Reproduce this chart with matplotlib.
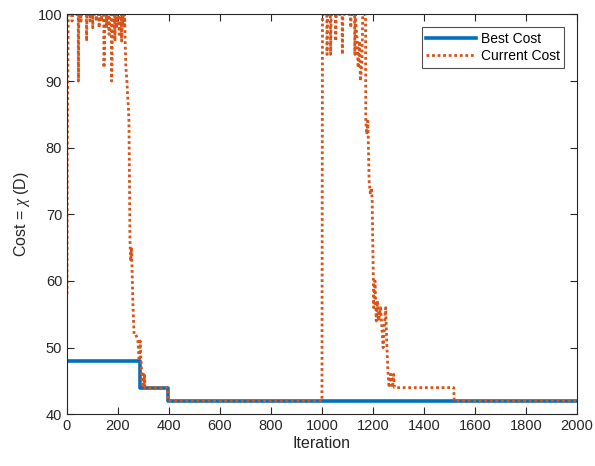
import matplotlib
matplotlib.use('Agg')
import matplotlib.pyplot as plt

plt.rcParams['font.family'] = ['Liberation Sans', 'DejaVu Sans']
plt.rcParams['mathtext.fontset'] = 'custom'
plt.rcParams['mathtext.it'] = 'Liberation Serif:italic'

# best cost so far (changes only at improvements)
best_iter = [0, 287, 395, 2000]
best_cost = [48, 44, 42, 42]

# current cost of the annealing walk, sampled at its turning points
cur_iter = [0, 1, 5, 19, 20, 21, 44, 45, 46, 54, 55, 56, 76, 77, 78, 89, 90, 91,
            100, 101, 102, 114, 115, 116, 125, 126, 127, 134, 135, 136, 144, 145, 147,
            148, 154, 155, 156, 164, 165, 166, 174, 175, 177, 178, 187, 188, 189, 194,
            195, 196, 204, 205, 206, 213, 214, 216, 219, 220, 221, 224, 225, 226, 228,
            231, 235, 239, 241, 243, 247, 250, 253, 255, 259, 263, 270, 278, 283, 287,
            295, 300, 302, 304, 306, 395, 396, 1000, 1002,
            1019, 1020, 1022, 1033, 1034, 1036, 1053, 1054, 1056, 1079, 1080, 1082,
            1112, 1113, 1115, 1128, 1129, 1131, 1138, 1142, 1147, 1151, 1157, 1160,
            1162, 1171, 1172, 1176, 1180, 1185, 1190, 1194, 1197, 1203, 1208, 1213,
            1218, 1222, 1226, 1230, 1240, 1246, 1250, 1254, 1258, 1263, 1270, 1277,
            1281, 1284, 1517, 1519, 2000]
cur_cost = [58, 80, 100, 100, 99, 100, 100, 90, 100, 100, 99, 100, 100, 96, 100, 100, 99, 100,
            100, 98, 100, 100, 99, 100, 100, 98, 100, 100, 99, 100, 100, 92, 95,
            100, 100, 98, 100, 100, 97, 100, 100, 90, 93, 100, 100, 96, 100, 100,
            98, 100, 100, 97, 100, 100, 96, 98, 100, 99, 100, 100, 98, 100, 96,
            92, 90, 87, 86, 84, 66, 63, 65, 62, 56, 52, 52, 51, 48, 51,
            44, 46, 44, 46, 44, 44, 42, 42, 100,
            100, 94, 100, 100, 94, 100, 100, 96, 100, 100, 94, 100,
            100, 98, 100, 100, 94, 100, 96, 92, 96, 90, 93, 100,
            100, 100, 84, 82, 84, 75, 73, 74, 72, 56, 60, 54,
            57, 54, 55, 56, 50, 54, 56, 51, 47, 44, 46, 44,
            46, 44, 44, 42, 42]

fig = plt.figure(figsize=(5.95, 4.66), dpi=100)
ax = fig.add_axes([0.1126, 0.111, 0.857, 0.858])

ax.plot(best_iter, best_cost, drawstyle='steps-post', color='#0072BD',
        linewidth=2.6, label='Best Cost')
ax.plot(cur_iter, cur_cost, linestyle=(0, (1, 1)), color='#D95319',
        linewidth=2.0, label='Current Cost')

ax.set_xlim(0, 2000)
ax.set_ylim(40, 100)
ax.set_xticks(range(0, 2001, 200))
ax.set_yticks(range(40, 101, 10))
ax.tick_params(direction='in', length=5, width=0.8, labelsize=10.5,
               colors='#262626', top=True, right=True, labeltop=False, labelright=False)
for sp in ax.spines.values():
    sp.set_color('#262626')
    sp.set_linewidth(0.8)

ax.set_xlabel('Iteration', fontsize=11.5, color='#262626', labelpad=2)
ax.set_ylabel(r'Cost = $\chi$ (D)', fontsize=11.5, color='#262626', labelpad=4)

leg = ax.legend(loc='upper right', fontsize=10, frameon=True, fancybox=False,
                edgecolor='#262626', handlelength=3.6, borderpad=0.35,
                labelspacing=0.25, handletextpad=0.3, borderaxespad=0.9)
leg.get_frame().set_linewidth(0.8)

fig.savefig('out.png', dpi=100)
